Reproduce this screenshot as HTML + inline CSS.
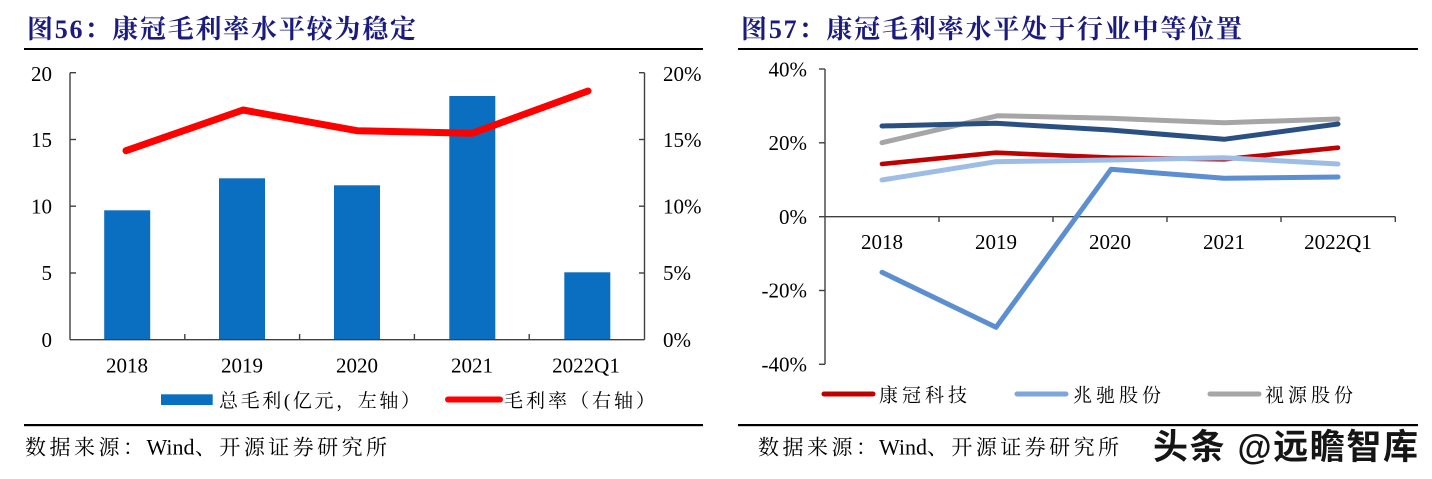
<!DOCTYPE html>
<html>
<head>
<meta charset="utf-8">
<style>
html,body{margin:0;padding:0;background:#fff;}
body{width:1432px;height:479px;overflow:hidden;}
svg{display:block;}
.num{font-family:"Liberation Serif","Noto Serif CJK SC",serif;font-size:21px;fill:#000;}
.cjk{font-family:"Liberation Serif","Noto Serif CJK SC",serif;fill:#000;}
.title{font-family:"Liberation Serif","Noto Serif CJK SC",serif;font-size:26px;font-weight:bold;fill:#1B1B7F;}
</style>
</head>
<body>
<svg width="1432" height="479" viewBox="0 0 1432 479" xmlns="http://www.w3.org/2000/svg">
<rect width="1432" height="479" fill="#fff"/>

<!-- ================= LEFT PANEL ================= -->
<text class="title" x="27" y="38" textLength="389">图56：康冠毛利率水平较为稳定</text>
<rect x="24" y="48" width="679" height="2" fill="#000"/>

<!-- bars -->
<g fill="#0A6FC0">
  <rect x="104.2" y="210.3" width="46" height="129.4"/>
  <rect x="219" y="178.3" width="46" height="161.4"/>
  <rect x="334" y="185.3" width="46" height="154.4"/>
  <rect x="449.3" y="96" width="46" height="243.7"/>
  <rect x="564.3" y="272.3" width="46" height="67.4"/>
</g>

<!-- axes -->
<g stroke="#404040" stroke-width="1.4" fill="none">
  <line x1="70" y1="72.7" x2="70" y2="339.7"/>
  <line x1="644.5" y1="72.7" x2="644.5" y2="339.7"/>
  <line x1="70" y1="339.7" x2="644.5" y2="339.7"/>
  <line x1="70" y1="72.7" x2="76" y2="72.7"/>
  <line x1="70" y1="139.5" x2="76" y2="139.5"/>
  <line x1="70" y1="206.2" x2="76" y2="206.2"/>
  <line x1="70" y1="273" x2="76" y2="273"/>
  <line x1="639" y1="72.7" x2="644.5" y2="72.7"/>
  <line x1="639" y1="139.5" x2="644.5" y2="139.5"/>
  <line x1="639" y1="206.2" x2="644.5" y2="206.2"/>
  <line x1="639" y1="273" x2="644.5" y2="273"/>
  <line x1="184.8" y1="334" x2="184.8" y2="339.7"/>
  <line x1="299.6" y1="334" x2="299.6" y2="339.7"/>
  <line x1="414.4" y1="334" x2="414.4" y2="339.7"/>
  <line x1="529.2" y1="334" x2="529.2" y2="339.7"/>
</g>

<!-- red line -->
<polyline points="126,150.7 243,110 357,130.7 472,133.3 588,91" fill="none" stroke="#FF0000" stroke-width="7" stroke-linejoin="round" stroke-linecap="round"/>

<!-- left y labels -->
<g class="num" text-anchor="end">
  <text x="52" y="81">20</text>
  <text x="52" y="147">15</text>
  <text x="52" y="213.5">10</text>
  <text x="52" y="280">5</text>
  <text x="52" y="347">0</text>
</g>
<!-- right y labels -->
<g class="num">
  <text x="663" y="81">20%</text>
  <text x="663" y="147">15%</text>
  <text x="663" y="213.5">10%</text>
  <text x="663" y="280">5%</text>
  <text x="663" y="347">0%</text>
</g>
<!-- x labels -->
<g class="num" text-anchor="middle">
  <text x="127" y="372.5">2018</text>
  <text x="242" y="372.5">2019</text>
  <text x="357" y="372.5">2020</text>
  <text x="472" y="372.5">2021</text>
  <text x="586" y="372.5">2022Q1</text>
</g>

<!-- legend -->
<rect x="161" y="394.3" width="51.7" height="10.7" fill="#0A6FC0"/>
<text class="cjk" x="219" y="407" font-size="19" textLength="201">总毛利(亿元，左轴）</text>
<line x1="448" y1="399.5" x2="500" y2="399.5" stroke="#FF0000" stroke-width="6" stroke-linecap="round"/>
<text class="cjk" x="504" y="407" font-size="19" textLength="151">毛利率（右轴）</text>

<rect x="24" y="424" width="679" height="2.2" fill="#000"/>
<text class="cjk" x="25" y="454.5" font-size="21" textLength="119">数据来源：</text>
<text class="cjk" x="146.5" y="454.5" font-size="22">Wind</text>
<text class="cjk" x="195" y="454.5" font-size="21" textLength="192">、开源证券研究所</text>

<!-- ================= RIGHT PANEL ================= -->
<text class="title" x="741" y="38" textLength="501">图57：康冠毛利率水平处于行业中等位置</text>
<rect x="738" y="48" width="680" height="2" fill="#000"/>

<!-- axes -->
<g stroke="#404040" stroke-width="1.4" fill="none">
  <line x1="825" y1="69" x2="825" y2="364.3"/>
  <line x1="819" y1="69" x2="825" y2="69"/>
  <line x1="819" y1="142.8" x2="825" y2="142.8"/>
  <line x1="819" y1="216.7" x2="825" y2="216.7"/>
  <line x1="819" y1="290.5" x2="825" y2="290.5"/>
  <line x1="819" y1="364.3" x2="825" y2="364.3"/>
  <line x1="825" y1="216.7" x2="1395.3" y2="216.7"/>
  <line x1="939" y1="216.7" x2="939" y2="222"/>
  <line x1="1053" y1="216.7" x2="1053" y2="222"/>
  <line x1="1167" y1="216.7" x2="1167" y2="222"/>
  <line x1="1281" y1="216.7" x2="1281" y2="222"/>
  <line x1="1395.3" y1="216.7" x2="1395.3" y2="222"/>
</g>

<!-- series -->
<g fill="none" stroke-width="5" stroke-linejoin="round" stroke-linecap="round">
  <polyline points="882,142.7 998,115.7 1110,118.3 1224,122.7 1338,119" stroke="#A6A6A6"/>
  <polyline points="882,126 996,123.3 1110,130 1224,139.3 1338,124" stroke="#2A5082"/>
  <polyline points="882,164 996,152.7 1110,157.5 1224,159.3 1338,147.7" stroke="#C00000" stroke-width="4.6"/>
  <polyline points="882,272.3 996,327.3 1111,169.3 1224,178.3 1338,177" stroke="#5B8FD2"/>
  <polyline points="882,180 996,161.7 1110,160 1224,157.7 1338,164" stroke="#9DBDE4"/>
</g>

<!-- y labels -->
<g class="num" text-anchor="end">
  <text x="807" y="76.5">40%</text>
  <text x="807" y="150">20%</text>
  <text x="807" y="224">0%</text>
  <text x="807" y="297.5">-20%</text>
  <text x="807" y="371.5">-40%</text>
</g>
<!-- x labels -->
<g class="num" text-anchor="middle">
  <text x="882" y="249">2018</text>
  <text x="996" y="249">2019</text>
  <text x="1110" y="249">2020</text>
  <text x="1224" y="249">2021</text>
  <text x="1338" y="249">2022Q1</text>
</g>

<!-- legend -->
<line x1="824" y1="394" x2="873" y2="394" stroke="#C00000" stroke-width="5" stroke-linecap="round"/>
<text class="cjk" x="879" y="401.5" font-size="19" textLength="88">康冠科技</text>
<line x1="1017" y1="394" x2="1066" y2="394" stroke="#7EA6DC" stroke-width="5" stroke-linecap="round"/>
<text class="cjk" x="1073" y="401.5" font-size="19" textLength="88">兆驰股份</text>
<line x1="1210" y1="394" x2="1259" y2="394" stroke="#A6A6A6" stroke-width="5" stroke-linecap="round"/>
<text class="cjk" x="1265" y="401.5" font-size="19" textLength="88">视源股份</text>

<rect x="738" y="424" width="680" height="2.2" fill="#000"/>
<text class="cjk" x="758" y="454.5" font-size="21" textLength="119">数据来源：</text>
<text class="cjk" x="879" y="454.5" font-size="22">Wind</text>
<text class="cjk" x="927" y="454.5" font-size="21" textLength="192">、开源证券研究所</text>

<!-- watermark -->
<text x="1153" y="459" font-family="'Liberation Sans','Noto Sans CJK SC',sans-serif" font-size="35" font-weight="bold" fill="#151515" textLength="265">头条 @远瞻智库</text>
</svg>
</body>
</html>
